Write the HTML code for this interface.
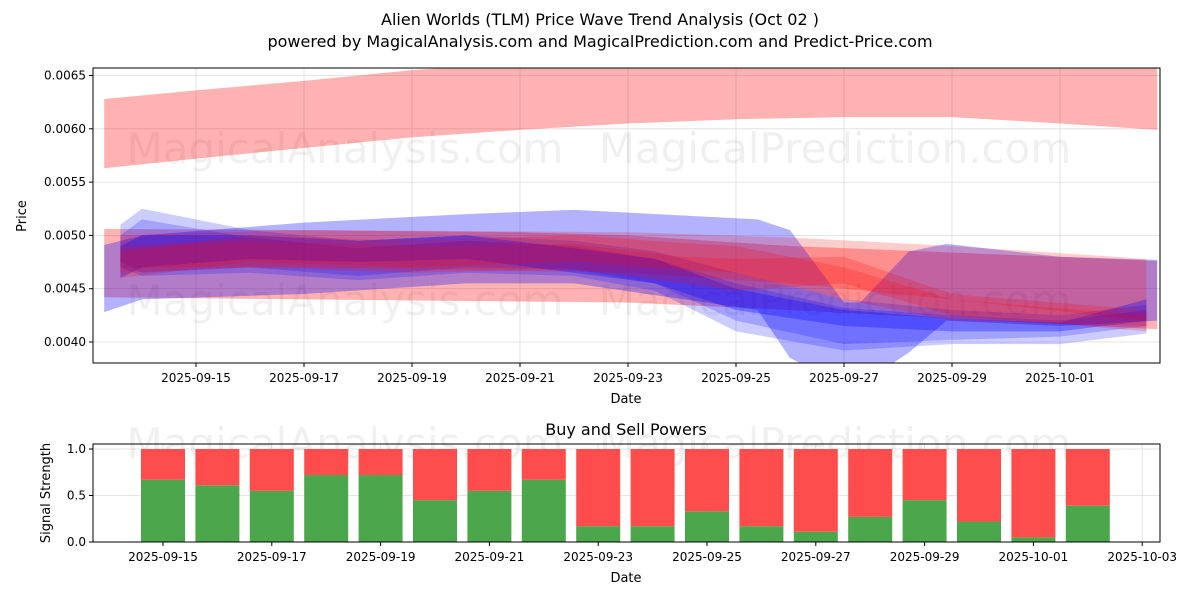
<!DOCTYPE html>
<html><head><meta charset="utf-8"><style>
body{margin:0;background:#fff;font-family:"Liberation Sans","DejaVu Sans",sans-serif}
svg text{font-family:"DejaVu Sans","Liberation Sans",sans-serif}
</style></head><body>
<svg id="s" width="1200" height="600" viewBox="0 0 1200 600">
<text x="600" y="25" text-anchor="middle" font-size="16">Alien Worlds (TLM) Price Wave Trend Analysis (Oct 02 )</text>
<text x="600" y="47" text-anchor="middle" font-size="16">powered by MagicalAnalysis.com and MagicalPrediction.com and Predict-Price.com</text>
<g id="topg"></g>
<g id="botg"></g>
</svg>
<script>
// ---- price chart data (day offset from 2025-09-13) ----
const priceTicks=[0.0040,0.0045,0.0050,0.0055,0.0060,0.0065];
const dateTicks=["2025-09-15","2025-09-17","2025-09-19","2025-09-21","2025-09-23","2025-09-25","2025-09-27","2025-09-29","2025-10-01"];
const dateTickDays=[2,4,6,8,10,12,14,16,18];
const r1Days=[0.3,2,4,6,8,10,12,14,16,18,19.8];
const r1Up=[0.00628,0.00636,0.00645,0.00655,0.00662,0.00665,0.00668,0.00668,0.00668,0.00662,0.00660];
const r1Lo=[0.00563,0.00572,0.00582,0.00592,0.00599,0.00605,0.00609,0.00611,0.00611,0.00605,0.00599];
const r2Days=[0.3,4,8,10,13,16,19.8];
const r2Up=[0.00506,0.00505,0.00503,0.00500,0.00490,0.00484,0.00476];
const r2Lo=[0.00442,0.00440,0.00438,0.00437,0.00430,0.00422,0.00412];
const b1Days=[0.3,1,4,7,9,12.4,13.0,14.0,14.3,15.2,15.9,18,19.8];
const b1Up=[0.00491,0.00500,0.00512,0.00520,0.00524,0.00515,0.00505,0.00437,0.00437,0.00485,0.00492,0.00480,0.00477];
const b1Lo=[0.00428,0.00440,0.00445,0.00455,0.00455,0.00430,0.00385,0.00360,0.00360,0.00390,0.00420,0.00415,0.00420];
const midDays=[0.6,1,3,5,7,9,10.5,12,14,16,18,19.6];
const b2Up=[0.00510,0.00525,0.00505,0.00495,0.00500,0.00495,0.00485,0.00465,0.00440,0.00430,0.00425,0.00435];
const b2Lo=[0.00475,0.00465,0.00470,0.00462,0.00470,0.00468,0.00455,0.00420,0.00398,0.00402,0.00405,0.00415];
const b3Up=[0.00500,0.00515,0.00498,0.00488,0.00495,0.00490,0.00478,0.00455,0.00432,0.00425,0.00420,0.00430];
const b3Lo=[0.00470,0.00462,0.00465,0.00458,0.00465,0.00462,0.00448,0.00410,0.00392,0.00398,0.00398,0.00408];
const b4Up=[0.00490,0.00500,0.00500,0.00495,0.00500,0.00488,0.00478,0.00450,0.00430,0.00422,0.00418,0.00440];
const b4Lo=[0.00460,0.00470,0.00478,0.00475,0.00478,0.00465,0.00455,0.00430,0.00415,0.00410,0.00410,0.00420];
const redDays=[0.6,3,6,9,11,12,14,16,19.6];
const r3Up=[0.00485,0.00500,0.00495,0.00500,0.00493,0.00490,0.00470,0.00440,0.00425];
const r3Lo=[0.00460,0.00475,0.00470,0.00475,0.00468,0.00465,0.00440,0.00420,0.00415];
const r4Up=[0.00490,0.00495,0.00490,0.00492,0.00480,0.00478,0.00480,0.00445,0.00430];
const r4Lo=[0.00465,0.00470,0.00465,0.00468,0.00455,0.00448,0.00455,0.00425,0.00410];
const r5Days=[0.6,4,10,13,16,19.6];
const r5Up=[0.00500,0.00505,0.00503,0.00498,0.00490,0.00478];
const r5Lo=[0.00470,0.00470,0.00465,0.00455,0.00440,0.00420];
// ---- signal chart data ----
const sigDates=["09-15","09-16","09-17","09-18","09-19","09-20","09-21","09-22","09-23","09-24","09-25","09-26","09-27","09-28","09-29","09-30","10-01","10-02"];
const buyPower=[0.67,0.61,0.55,0.72,0.72,0.45,0.55,0.67,0.17,0.17,0.33,0.17,0.11,0.27,0.45,0.22,0.05,0.39];
const sigTicks=[0,0.5,1.0];
const sigDateTicks=["2025-09-15","2025-09-17","2025-09-19","2025-09-21","2025-09-23","2025-09-25","2025-09-27","2025-09-29","2025-10-01","2025-10-03"];

const NS="http://www.w3.org/2000/svg";
function mk(p,t,a){const e=document.createElementNS(NS,t);for(const k in a)e.setAttribute(k,a[k]);p.appendChild(e);return e;}
const topG=document.getElementById('topg'),botG=document.getElementById('botg');
const L=93,R=1160,T1=68,B1=363;
const xd=d=>88+54*d;
const yp=p=>342-(p-0.004)*106600;
const defs=mk(document.getElementById('s'),'defs',{});
const cp=mk(defs,'clipPath',{id:'c1'});mk(cp,'rect',{x:L,y:T1,width:R-L,height:B1-T1});
priceTicks.forEach(v=>{const y=yp(v);
 const g=mk(topG,'line',{x1:L,x2:R,y1:y,y2:y,stroke:'#ddd','stroke-width':0.8});
 
 
 mk(topG,'line',{x1:L-4,x2:L,y1:y,y2:y,stroke:'#000'});
 const t=mk(topG,'text',{x:L-7,y:y+4,'text-anchor':'end','font-size':12});t.textContent=v.toFixed(4);
 
 });
dateTicks.forEach((lab,i)=>{const x=xd(dateTickDays[i]);
 const g=mk(topG,'line',{x1:x,x2:x,y1:T1,y2:B1,stroke:'#ddd','stroke-width':0.8});
 
 
 mk(topG,'line',{x1:x,x2:x,y1:B1,y2:B1+4,stroke:'#000'});
 const t=mk(topG,'text',{x:x,y:B1+19,'text-anchor':'middle','font-size':12});t.textContent=lab;
 
 });
[[345,163],[835,163],[345,315],[835,315]].forEach(([x,y])=>{const t=mk(topG,'text',{x:x,y:y,'text-anchor':'middle','font-size':42,fill:'#000','fill-opacity':0.06});
 t.textContent=x<600?'MagicalAnalysis.com':'MagicalPrediction.com';
 
 });
const gb=mk(topG,'g',{'clip-path':'url(#c1)'});
function band(days,up,lo,color,op,name){
 let pts=days.map((d,i)=>xd(d)+','+yp(up[i]));
 for(let i=days.length-1;i>=0;i--)pts.push(xd(days[i])+','+yp(lo[i]));
 const p=mk(gb,'polygon',{points:pts.join(' '),fill:color,'fill-opacity':op});
 
 }
band(r1Days,r1Up,r1Lo,'#ff0000',0.3,'red-band-upper');
band(r2Days,r2Up,r2Lo,'#ff0000',0.3,'red-band-wide');
band(b1Days,b1Up,b1Lo,'#0000ff',0.3,'blue-band-wide');
band(midDays,b2Up,b2Lo,'#0000ff',0.2,'blue-band-2');
band(midDays,b3Up,b3Lo,'#0000ff',0.2,'blue-band-3');
band(r5Days,r5Up,r5Lo,'#ff0000',0.2,'red-band-5');
band(midDays,b4Up,b4Lo,'#0000ff',0.3,'blue-band-4');
band(redDays,r3Up,r3Lo,'#ff0000',0.2,'red-band-3');
band(redDays,r4Up,r4Lo,'#ff0000',0.2,'red-band-4');
mk(topG,'rect',{x:L,y:T1,width:R-L,height:B1-T1,fill:'none',stroke:'#000','stroke-width':1});
let t=mk(topG,'text',{x:626,y:403,'text-anchor':'middle','font-size':13});t.textContent='Date';


t=mk(topG,'text',{x:26,y:216,'text-anchor':'middle','font-size':13,transform:'rotate(-90 26 216)'});t.textContent='Price';



const T2=444,B2=542;
const xs=i=>163+54.4*i;
const ys=v=>542-v*93;
t=mk(botG,'text',{x:626,y:435,'text-anchor':'middle','font-size':16});t.textContent='Buy and Sell Powers';


sigTicks.forEach(v=>{const y=ys(v);
 mk(botG,'line',{x1:L,x2:R,y1:y,y2:y,stroke:'#ddd','stroke-width':0.8});
 mk(botG,'line',{x1:L-4,x2:L,y1:y,y2:y,stroke:'#000'});
 const tt=mk(botG,'text',{x:L-7,y:y+4,'text-anchor':'end','font-size':12});tt.textContent=v.toFixed(1);
 
 });
sigDateTicks.forEach((lab,i)=>{const x=xs(2*i);
 mk(botG,'line',{x1:x,x2:x,y1:T2,y2:B2,stroke:'#ddd','stroke-width':0.8});
 mk(botG,'line',{x1:x,x2:x,y1:B2,y2:B2+4,stroke:'#000'});
 const tt=mk(botG,'text',{x:x,y:B2+19,'text-anchor':'middle','font-size':12});tt.textContent=lab;
 
 });
[[345,458],[835,458]].forEach(([x,y])=>{const tt=mk(botG,'text',{x:x,y:y,'text-anchor':'middle','font-size':42,fill:'#000','fill-opacity':0.06});
 tt.textContent=x<600?'MagicalAnalysis.com':'MagicalPrediction.com';
 
 });
buyPower.forEach((v,i)=>{const x=xs(i)-22;
 const g=mk(botG,'rect',{x:x,y:ys(v),width:44,height:ys(0)-ys(v),fill:'#4ca64c'});
 
 
 const r=mk(botG,'rect',{x:x,y:ys(1),width:44,height:ys(v)-ys(1),fill:'#ff4c4c'});
 
 });
mk(botG,'rect',{x:L,y:T2,width:R-L,height:B2-T2,fill:'none',stroke:'#000','stroke-width':1});
t=mk(botG,'text',{x:626,y:582,'text-anchor':'middle','font-size':13});t.textContent='Date';


t=mk(botG,'text',{x:50,y:493,'text-anchor':'middle','font-size':13,transform:'rotate(-90 50 493)'});t.textContent='Signal Strength';


</script>
</body></html>
